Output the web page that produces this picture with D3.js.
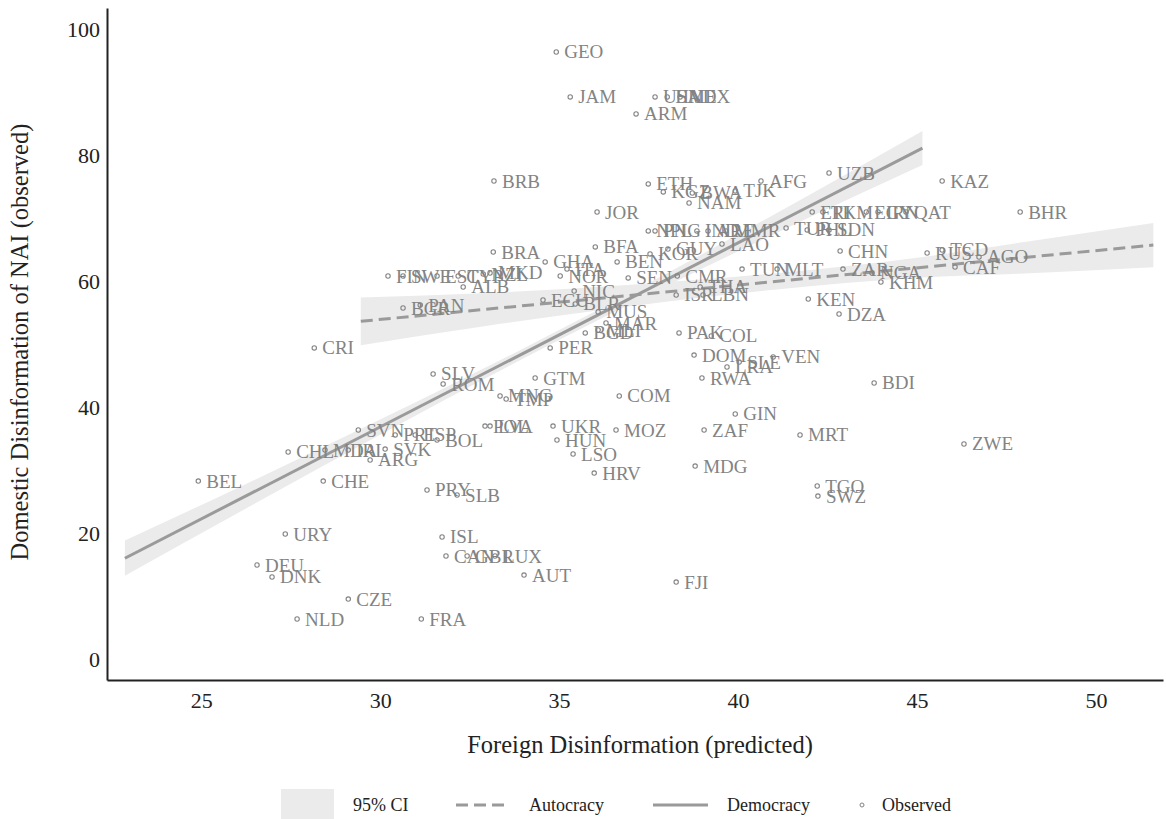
<!DOCTYPE html>
<html>
<head>
<meta charset="utf-8">
<script src="https://cdn.jsdelivr.net/npm/d3@7"></script>
<style>
  body { margin: 0; background: #fff; }
  svg { display: block; font-family: 'Liberation Serif', 'DejaVu Serif', serif; }
</style>
</head>
<body>
<div id="chart"></div>
<script>
// observed countries: code, foreign (predicted), domestic (observed)
const codes = ['GEO', 'JAM', 'USA', 'HND', 'MEX', 'ARM', 'BRB', 'ETH', 'KGZ', 'BWA', 'TJK', 'NAM', 'AFG', 'UZB', 'KAZ', 'BHR', 'JOR',
  'ERI', 'TKM', 'EGY', 'IRN', 'QAT', 'TUR', 'PHL', 'SDN', 'NPL', 'PNG', 'IND', 'ARE', 'MMR', 'LAO', 'CHN', 'RUS', 'TCD', 'AGO',
  'CAF', 'ZAR', 'NGA', 'KHM', 'TUN', 'MLT', 'KEN', 'DZA', 'BDI', 'MRT', 'ZWE', 'TGO', 'SWZ', 'VEN', 'SLE', 'LRA', 'DOM', 'RWA',
  'PAK', 'COL', 'GIN', 'ZAF', 'MDG', 'COM', 'MOZ', 'UKR', 'HUN', 'LSO', 'HRV', 'GTM', 'PER', 'MNG', 'TMP', 'POL', 'LVA', 'SVN',
  'PRT', 'ESP', 'BOL', 'SVK', 'ARG', 'CHL', 'MDA', 'IRL', 'BEL', 'CHE', 'PRY', 'SLB', 'CRI', 'SLV', 'ROM', 'BGR', 'PAN', 'ALB',
  'BRA', 'FIN', 'SWE', 'EST', 'CYP', 'NZL', 'MKD', 'GHA', 'NOR', 'ITA', 'BFA', 'BEN', 'KOR', 'GUY', 'NIC', 'ECU', 'BLR', 'MUS',
  'MAR', 'BGD', 'MLI', 'SEN', 'CMR', 'THA', 'ISR', 'LBN', 'URY', 'DEU', 'DNK', 'CZE', 'NLD', 'FRA', 'ISL', 'CAN', 'GBR', 'LUX',
  'AUT', 'FJI'];
const foreign = [34.92, 35.31, 37.68, 38.02, 38.38, 37.15, 33.18, 37.49, 37.91, 38.72, 39.92, 38.63, 40.64, 42.54, 45.70, 47.88, 36.06,
  42.07, 42.37, 43.58, 43.91, 44.69, 41.34, 41.93, 42.54, 37.49, 37.68, 38.85, 39.16, 39.66, 39.55, 42.85, 45.28, 45.70, 46.73,
  46.06, 42.93, 43.74, 43.99, 40.11, 41.09, 41.96, 42.82, 43.80, 41.73, 46.31, 42.21, 42.23, 40.98, 40.03, 39.69, 38.77, 38.99,
  38.35, 39.25, 39.92, 39.05, 38.80, 36.68, 36.59, 34.83, 34.94, 35.39, 35.98, 34.33, 34.75, 33.35, 33.52, 32.93, 33.07, 29.39,
  30.42, 30.98, 31.59, 30.14, 29.72, 27.43, 28.46, 29.11, 24.92, 28.41, 31.31, 32.15, 28.16, 31.48, 31.76, 30.64, 31.12, 32.32,
  33.16, 30.22, 30.64, 31.59, 32.18, 32.88, 33.07, 34.61, 35.03, 35.22, 36.01, 36.62, 37.54, 38.04, 35.42, 34.55, 35.45, 36.09,
  36.31, 35.73, 36.09, 36.93, 38.30, 38.94, 38.27, 39.02, 27.35, 26.56, 26.98, 29.11, 27.68, 31.15, 31.73, 31.84, 32.43, 33.21,
  34.02, 38.27];
const domestic = [96.35, 89.21, 89.21, 89.21, 89.21, 86.51, 75.87, 75.40, 74.13, 73.97, 74.29, 72.38, 75.87, 77.14, 75.87, 70.95, 70.95,
  70.95, 70.95, 70.95, 70.95, 70.95, 68.41, 68.10, 68.10, 67.94, 67.94, 67.94, 67.94, 67.94, 65.87, 64.76, 64.44, 64.92, 63.81,
  62.22, 61.90, 61.27, 59.84, 61.90, 61.90, 57.14, 54.76, 43.81, 35.56, 34.13, 27.46, 25.87, 47.94, 47.14, 46.35, 48.25, 44.60,
  51.75, 51.27, 38.89, 36.35, 30.63, 41.75, 36.35, 36.98, 34.76, 32.54, 29.52, 44.60, 49.37, 41.75, 41.27, 36.98, 36.98, 36.35,
  35.56, 35.56, 34.76, 33.33, 31.59, 32.86, 33.17, 33.17, 28.25, 28.25, 26.83, 26.03, 49.37, 45.24, 43.65, 55.71, 56.19, 59.05,
  64.60, 60.79, 60.79, 60.79, 60.79, 61.11, 61.27, 63.02, 60.79, 61.90, 65.40, 63.02, 64.29, 65.08, 58.41, 56.98, 56.35, 55.08,
  53.33, 51.75, 52.22, 60.48, 60.79, 59.05, 57.78, 57.78, 19.84, 14.92, 13.02, 9.52, 6.35, 6.35, 19.37, 16.35, 16.35, 16.35,
  13.33, 12.22];

// fitted lines and 95% CI (x, lower, upper)
const democracyFit = [[22.87, 16.0], [45.15, 81.1]];
const democracyCI = [[22.87, 13.2, 18.8], [26, 23.1, 27.1], [30, 35.6, 38.0], [34, 47.7, 49.3], [38, 59.2, 61.2], [42, 70.1, 73.7], [45.15, 78.4, 83.8]];
const autocracyFit = [[29.46, 53.6], [51.6, 65.7]];
const autocracyCI = [[29.46, 49.8, 57.4], [33, 52.9, 58.1], [37, 56.0, 59.4], [41, 58.6, 61.2], [45, 60.5, 63.7], [48, 61.2, 66.2], [51.6, 62.2, 69.2]];

const xTicks = [25, 30, 35, 40, 45, 50];
const yTicks = [0, 20, 40, 60, 80, 100];
const legendItems = ['95% CI', 'Autocracy', 'Democracy', 'Observed'];

const W = 1166, H = 819;
const grey = '#9a9a9a';
const labelGrey = '#838383';

const svg = d3.select('#chart').append('svg')
  .attr('width', W)
  .attr('height', H);

const x = d3.scaleLinear().domain([22.37, 51.87]).range([107, 1163]);
const y = d3.scaleLinear().domain([-3.33, 103.33]).range([680, 8]);

// bands
const area = d3.area()
  .x(d => x(d[0]))
  .y0(d => y(d[1]))
  .y1(d => y(d[2]))
  .curve(d3.curveMonotoneX);

svg.append('path').datum(autocracyCI)
  .attr('d', area)
  .attr('fill', '#ebebeb');
svg.append('path').datum(democracyCI)
  .attr('d', area)
  .attr('fill', '#ebebeb');

const line = d3.line().x(d => x(d[0])).y(d => y(d[1]));

svg.append('path').datum(autocracyFit)
  .attr('d', line)
  .attr('fill', 'none')
  .attr('stroke', grey)
  .attr('stroke-width', 3)
  .attr('stroke-dasharray', '12,6');
svg.append('path').datum(democracyFit)
  .attr('d', line)
  .attr('fill', 'none')
  .attr('stroke', grey)
  .attr('stroke-width', 3);

// points + labels
const pts = codes.map((c, i) => ({ code: c, fx: foreign[i], dom: domestic[i] }));
const pg = svg.append('g').attr('class', 'points');
pg.selectAll('circle')
  .data(pts)
  .enter().append('circle')
  .attr('cx', d => x(d.fx))
  .attr('cy', d => y(d.dom))
  .attr('r', 2.2)
  .attr('fill', 'none')
  .attr('stroke', labelGrey)
  .attr('stroke-width', 1.1);
pg.selectAll('text')
  .data(pts)
  .enter().append('text')
  .attr('x', d => x(d.fx) + 8)
  .attr('y', d => y(d.dom) + 6.5)
  .attr('fill', labelGrey)
  .style('font-size', '19px')
  .text(d => d.code);

// axes
const xAxis = svg.append('g')
  .attr('transform', 'translate(0,680)')
  .call(d3.axisBottom(x).tickValues(xTicks).tickSize(0).tickPadding(12));
const yAxis = svg.append('g')
  .attr('transform', 'translate(107,0)')
  .call(d3.axisLeft(y).tickValues(yTicks).tickSize(0).tickPadding(7));
[xAxis, yAxis].forEach((g) => {
  g.select('.domain').attr('stroke', '#222').attr('stroke-width', 2);
  g.selectAll('text')
    .attr('fill', '#222')
    .style('font-family', "'Liberation Serif', serif")
    .style('font-size', '22px');
});

svg.append('text')
  .attr('x', 640)
  .attr('y', 753)
  .attr('text-anchor', 'middle')
  .attr('fill', '#222')
  .style('font-size', '24.5px')
  .text('Foreign Disinformation (predicted)');

svg.append('text')
  .attr('transform', 'translate(28,342) rotate(-90)')
  .attr('text-anchor', 'middle')
  .attr('fill', '#222')
  .style('font-size', '24.5px')
  .text('Domestic Disinformation of NAI (observed)');

// legend
const lg = svg.append('g').attr('class', 'legend');
const ly = 805;
lg.append('rect')
  .attr('x', 281).attr('y', 789)
  .attr('width', 53).attr('height', 31)
  .attr('fill', '#ebebeb');
lg.append('line')
  .attr('x1', 456).attr('x2', 506).attr('y1', ly).attr('y2', ly)
  .attr('stroke', grey).attr('stroke-width', 3).attr('stroke-dasharray', '12,6');
lg.append('line')
  .attr('x1', 653).attr('x2', 708).attr('y1', ly).attr('y2', ly)
  .attr('stroke', grey).attr('stroke-width', 3);
lg.append('circle')
  .attr('cx', 862).attr('cy', ly).attr('r', 2)
  .attr('fill', 'none').attr('stroke', labelGrey);
const lx = [353, 529, 727, 882];
lg.selectAll('text.lt')
  .data(legendItems)
  .enter().append('text')
  .attr('class', 'lt')
  .attr('x', (d, i) => lx[i])
  .attr('y', ly + 6)
  .attr('fill', '#222')
  .style('font-size', '18px')
  .text(d => d);
</script>
</body>
</html>
